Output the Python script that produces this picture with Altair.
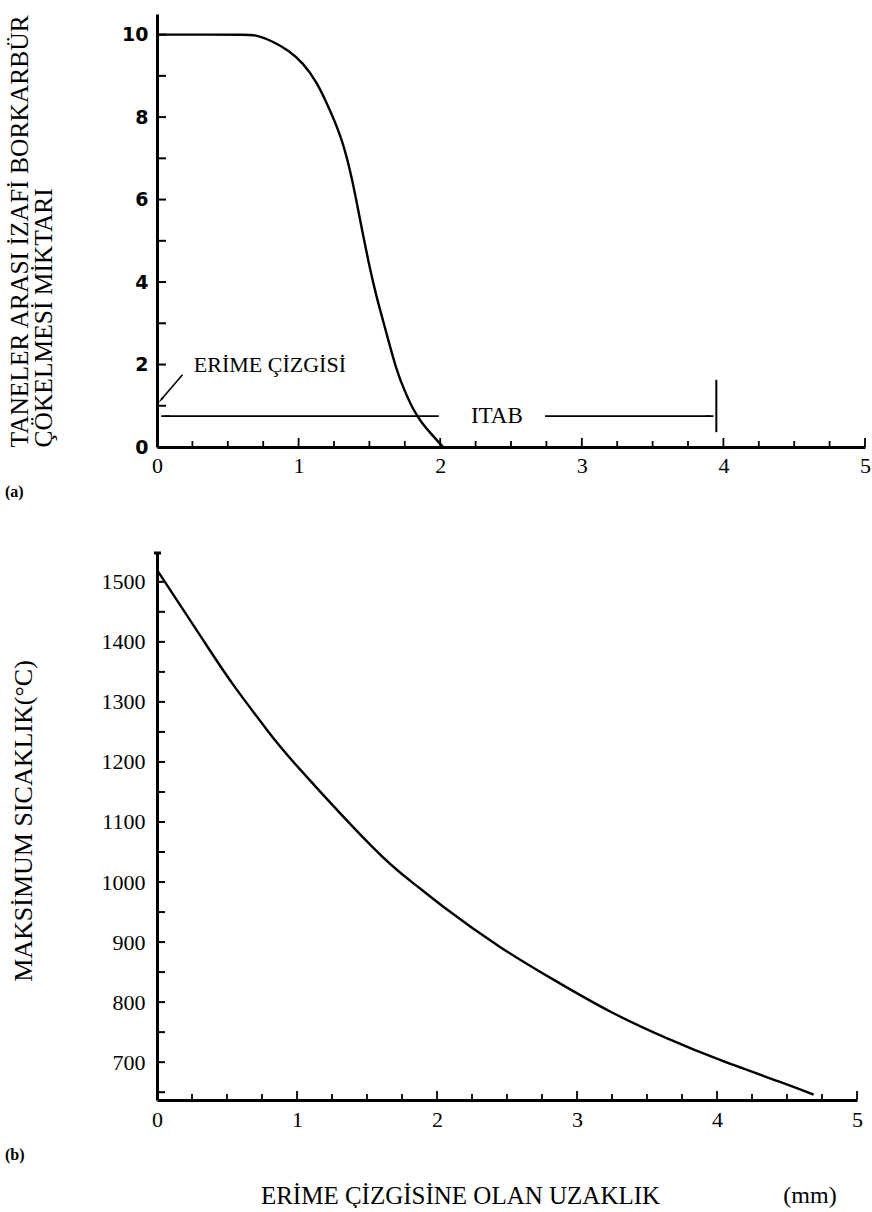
import altair as alt
import pandas as pd

SERIF = "Liberation Serif"
SANS_B = "DejaVu Sans"

# ---------------- panel (a) ----------------
a_dist = [0, 0.40, 0.62, 0.71, 0.82, 0.93, 1.03, 1.13, 1.22, 1.31, 1.38, 1.43, 1.50,
          1.55, 1.62, 1.69, 1.75, 1.81, 1.87, 1.93, 2.02]
a_amount = [10, 10, 10, 9.99, 9.83, 9.62, 9.32, 8.85, 8.18, 7.45, 6.48, 5.58, 4.37,
            3.64, 2.77, 1.87, 1.35, 0.90, 0.58, 0.34, 0]
a_x_labels = [0, 1, 2, 3, 4, 5]
a_y_labels = [0, 2, 4, 6, 8, 10]
a_y_ticks = [1, 2, 3, 4, 5, 6, 7, 8, 9, 10]
a_x_ticks_minor = [0.25, 0.5, 0.75, 1.25, 1.5, 1.75, 2.25, 2.5, 2.75, 3.25, 3.5,
                   3.75, 4.25, 4.5, 4.75]
a_x_ticks_major = [1, 2, 3, 4, 5]
a_title = ["TANELER ARASI İZAFİ BORKARBÜR", "ÇÖKELMESİ MİKTARI"]

# annotations (a)
erime_label = "ERİME ÇİZGİSİ"
erime_pos = (0.26, 2.0)
erime_arrow_x = [0.18, 0.03]
erime_arrow_y = [1.75, 1.15]
itab_label = "ITAB"
itab_y = 0.75
itab_text_x = 2.40
itab_left = (0.03, 1.99)
itab_right = (2.74, 3.93)
itab_bar_x = 3.95
itab_bar_y = (0.36, 1.63)

# ---------------- panel (b) ----------------
b_dist = [0, 0.31, 0.54, 0.79, 1.02, 1.54, 1.81, 2.05, 2.45, 2.85, 3.24, 3.64,
          4.04, 4.44, 4.69]
b_temp = [1520, 1410, 1330, 1252, 1188, 1058, 1002, 958, 892, 835, 784, 740,
          702, 668, 646]
b_x_labels = [0, 1, 2, 3, 4, 5]
b_y_labels = [700, 800, 900, 1000, 1100, 1200, 1300, 1400, 1500]
b_y_ticks = [650, 700, 750, 800, 850, 900, 950, 1000, 1050, 1100, 1150, 1200,
             1250, 1300, 1350, 1400, 1450, 1500]
b_x_ticks_minor = a_x_ticks_minor
b_x_ticks_major = [1, 2, 3, 4, 5]
b_y_title = "MAKSİMUM SICAKLIK(°C)"
b_x_title = "ERİME ÇİZGİSİNE OLAN UZAKLIK"
b_unit = "(mm)"

# ---------------- sizes ----------------
A_W, A_H = 708, 433
B_W, B_H = 700, 547
A_XDOM, A_YDOM = [0, 5], [0, 10.5]
B_XDOM, B_YDOM = [0, 5], [637, 1548]

# ======== axes ========
a_xaxis = alt.Axis(values=a_x_labels, title=None, ticks=False, tickSize=0, grid=False,
                   labelFont=SERIF, labelFontSize=22, labelPadding=8, labelColor="black",
                   labelFlush=False, labelOverlap=False, domainColor="black",
                   domainWidth=3, format="d")
a_yaxis = alt.Axis(values=a_y_labels, title=a_title, ticks=False, tickSize=0, grid=False,
                   labelFont=SANS_B, labelFontWeight="bold", labelFontSize=19,
                   labelPadding=9, labelColor="black", labelFlush=False,
                   labelOverlap=False, domainColor="black", domainWidth=3,
                   titleFont=SERIF, titleFontSize=25.5, titleFontWeight="normal",
                   titleColor="black", titleAngle=270, titleAlign="left",
                   titleBaseline="alphabetic", titleX=-130, titleY=A_H,
                   titleLineHeight=24, format="d")
b_xaxis = alt.Axis(values=b_x_labels, title=b_x_title, ticks=False, tickSize=0,
                   grid=False, labelFont=SERIF, labelFontSize=22, labelPadding=9,
                   labelColor="black", labelFlush=False, labelOverlap=False,
                   domainColor="black", domainWidth=3, format="d",
                   titleFont=SERIF, titleFontSize=25, titleFontWeight="normal",
                   titleColor="black", titleX=303, titleY=103,
                   titleBaseline="alphabetic", titleAlign="center")
b_yaxis = alt.Axis(values=b_y_labels, title=b_y_title, ticks=False, tickSize=0,
                   grid=False, labelFont=SERIF, labelFontSize=22, labelPadding=12,
                   labelColor="black", labelFlush=False, labelOverlap=False,
                   domainColor="black", domainWidth=3, format="d",
                   titleFont=SERIF, titleFontSize=26, titleFontWeight="normal",
                   titleColor="black", titleAngle=270, titleAlign="center",
                   titleBaseline="alphabetic", titleX=-126, titleY=B_H / 2 - 6)


def xa(field="x:Q"):
    return alt.X(field, scale=alt.Scale(domain=A_XDOM, nice=False, zero=False), axis=a_xaxis)


def ya(field="y:Q"):
    return alt.Y(field, scale=alt.Scale(domain=A_YDOM, nice=False, zero=False), axis=a_yaxis)


def xb(field="x:Q"):
    return alt.X(field, scale=alt.Scale(domain=B_XDOM, nice=False, zero=False), axis=b_xaxis)


def yb(field="y:Q"):
    return alt.Y(field, scale=alt.Scale(domain=B_YDOM, nice=False, zero=False), axis=b_yaxis)


# ======== top chart ========
a_df = pd.DataFrame({"x": a_dist, "y": a_amount})
a_curve = alt.Chart(a_df).mark_line(color="black", strokeWidth=2.4,
                                    interpolate="basis").encode(x=xa(), y=ya())

a_yt = alt.Chart(pd.DataFrame({"y": a_y_ticks})).mark_rule(
    color="black", strokeWidth=2).encode(y=ya(), x=alt.value(0), x2=alt.value(9))
a_xt_min = alt.Chart(pd.DataFrame({"x": a_x_ticks_minor})).mark_rule(
    color="black", strokeWidth=1.8).encode(
    x=xa(), y=alt.value(A_H), y2=alt.value(A_H - 6))
a_xt_maj = alt.Chart(pd.DataFrame({"x": a_x_ticks_major})).mark_rule(
    color="black", strokeWidth=1.8).encode(
    x=xa(), y=alt.value(A_H), y2=alt.value(A_H - 9))

erime_txt = alt.Chart(pd.DataFrame({"x": [erime_pos[0]], "y": [erime_pos[1]],
                                    "t": [erime_label]})).mark_text(
    align="left", baseline="middle", font=SERIF, fontSize=22, color="black").encode(
    x=xa(), y=ya(), text="t:N")
erime_line = alt.Chart(pd.DataFrame({"x": erime_arrow_x, "y": erime_arrow_y,
                                     "o": [0, 1]})).mark_line(
    color="black", strokeWidth=1.6).encode(x=xa(), y=ya(), order="o:Q")
erime_head = alt.Chart(pd.DataFrame({"x": [erime_arrow_x[1]],
                                     "y": [erime_arrow_y[1]]})).mark_point(
    shape="wedge", filled=True, color="black", size=70, angle=222, opacity=1).encode(
    x=xa(), y=ya())

itab_segs = alt.Chart(pd.DataFrame({"x": [itab_left[0], itab_right[0]],
                                    "x2": [itab_left[1], itab_right[1]],
                                    "y": [itab_y, itab_y]})).mark_rule(
    color="black", strokeWidth=1.8).encode(x=xa(), x2="x2:Q", y=ya())
itab_bar = alt.Chart(pd.DataFrame({"x": [itab_bar_x], "y": [itab_bar_y[0]],
                                   "y2": [itab_bar_y[1]]})).mark_rule(
    color="black", strokeWidth=2).encode(x=xa(), y=ya(), y2="y2:Q")
itab_heads = alt.Chart(pd.DataFrame({"x": [itab_left[0] + 0.04, itab_right[1] - 0.04],
                                     "y": [itab_y, itab_y],
                                     "a": [270, 90]})).mark_point(
    shape="wedge", filled=True, color="black", size=60, opacity=1).encode(
    x=xa(), y=ya(), angle=alt.Angle("a:Q", scale=None))
itab_txt = alt.Chart(pd.DataFrame({"x": [itab_text_x], "y": [itab_y],
                                   "t": [itab_label]})).mark_text(
    align="center", baseline="middle", font=SERIF, fontSize=23, color="black").encode(
    x=xa(), y=ya(), text="t:N")
a_tag = alt.Chart(pd.DataFrame({"t": ["(a)"]})).mark_text(
    align="left", baseline="middle", font=SERIF, fontWeight="bold", fontSize=16,
    color="black").encode(x=alt.value(-152), y=alt.value(A_H + 45), text="t:N")

top = alt.layer(a_curve, a_yt, a_xt_min, a_xt_maj, erime_txt, erime_line, erime_head,
                itab_segs, itab_bar, itab_heads, itab_txt, a_tag).properties(
    width=A_W, height=A_H)

# ======== bottom chart ========
b_df = pd.DataFrame({"x": b_dist, "y": b_temp})
b_curve = alt.Chart(b_df).mark_line(color="black", strokeWidth=2.4,
                                    interpolate="natural").encode(x=xb(), y=yb())
b_yt = alt.Chart(pd.DataFrame({"y": b_y_ticks})).mark_rule(
    color="black", strokeWidth=2).encode(y=yb(), x=alt.value(0), x2=alt.value(8))
b_xt_min = alt.Chart(pd.DataFrame({"x": b_x_ticks_minor})).mark_rule(
    color="black", strokeWidth=1.8).encode(
    x=xb(), y=alt.value(B_H), y2=alt.value(B_H - 6))
b_xt_maj = alt.Chart(pd.DataFrame({"x": b_x_ticks_major})).mark_rule(
    color="black", strokeWidth=1.8).encode(
    x=xb(), y=alt.value(B_H), y2=alt.value(B_H - 9))
b_top_cap = alt.Chart(pd.DataFrame({"y": [B_YDOM[1]]})).mark_rule(
    color="black", strokeWidth=3).encode(y=yb(), x=alt.value(-3), x2=alt.value(4))
b_unit_txt = alt.Chart(pd.DataFrame({"t": [b_unit]})).mark_text(
    align="center", baseline="alphabetic", font=SERIF, fontSize=24,
    color="black").encode(x=alt.value(653), y=alt.value(B_H + 103), text="t:N")
b_tag = alt.Chart(pd.DataFrame({"t": ["(b)"]})).mark_text(
    align="left", baseline="middle", font=SERIF, fontWeight="bold", fontSize=16,
    color="black").encode(x=alt.value(-152), y=alt.value(B_H + 55), text="t:N")

bottom = alt.layer(b_curve, b_yt, b_xt_min, b_xt_maj, b_top_cap, b_unit_txt,
                   b_tag).properties(width=B_W, height=B_H)

chart = alt.vconcat(top, bottom, spacing=106, bounds="flush").resolve_scale(
    x="independent", y="independent").properties(
    padding={"left": 5, "top": 13, "right": 0, "bottom": 0},
    background="white").configure_view(strokeWidth=0)

chart.save("out.html", embed_options={"renderer": "svg", "actions": False})
